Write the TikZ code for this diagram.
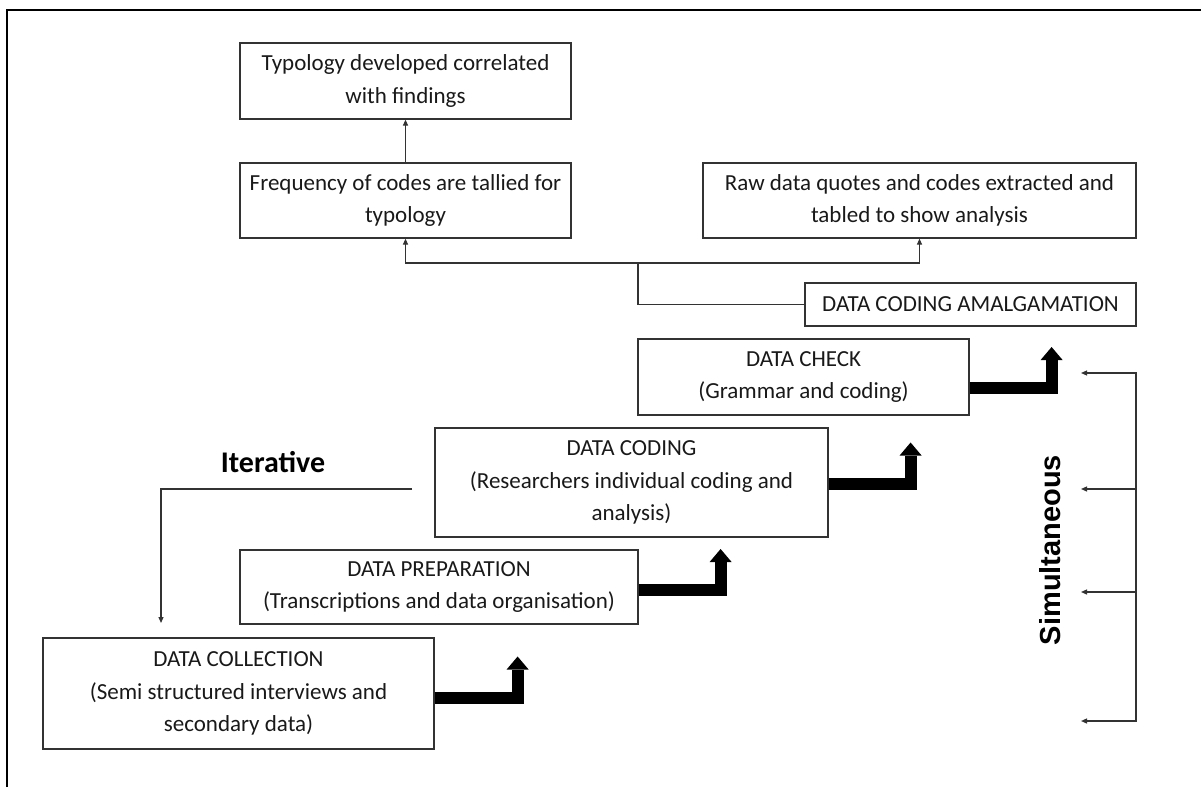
\documentclass[tikz,border=0pt]{standalone}
\usepackage{fontspec}
\setmainfont{Carlito}
\newfontfamily\simfont{Liberation Sans}
\usetikzlibrary{arrows.meta}

\begin{document}
\begin{tikzpicture}[x=1pt, y=-1pt,
    box/.style={draw=black!80, line width=1.2pt, align=center, inner sep=0pt,
      font=\fontsize{23}{32.5}\selectfont, text=black!90},
    link/.style={draw=black!80, line width=1.2pt, -{Triangle[length=6pt,width=5pt]}},
    bigarrow/.style={line width=12pt, line join=miter, -{Triangle[length=13pt,width=22pt,line width=0pt]}}]
  \useasboundingbox (0,0) rectangle (1201,787);
  % frame
  \draw[line width=2pt] (7,787) -- (7,10) -- (1201,10);

  % upper boxes
  \node[box, minimum width=331, minimum height=76] (typology) at (405.5,81)
    {Typology developed correlated\\with findings};
  \node[box, minimum width=331, minimum height=75] (frequency) at (405.5,200.5)
    {Frequency of codes are tallied for\\typology};
  \node[box, minimum width=433, minimum height=75] (raw) at (919.5,200.5)
    {Raw data quotes and codes extracted and\\tabled to show analysis};
  \node[box, minimum width=331, minimum height=43] (amalg) at (970.5,304.5)
    {DATA CODING AMALGAMATION};

  % steps
  \node[box, minimum width=331, minimum height=76] (check) at (803.5,377)
    {DATA CHECK\\(Grammar and coding)};
  \node[box, minimum width=393, minimum height=109] (coding) at (631.5,482.5)
    {DATA CODING\\(Researchers individual coding and\\analysis)};
  \node[box, minimum width=398, minimum height=74] (prep) at (439,587)
    {DATA PREPARATION\\(Transcriptions and data organisation)};
  \node[box, minimum width=391, minimum height=111] (collection) at (238.5,693.5)
    {DATA COLLECTION\\(Semi structured interviews and\\secondary data)};

  % thin connectors
  \draw[link] (frequency.north) -- (typology.south);
  \coordinate (fork) at (638,263);
  \draw[link, -] (amalg.west) -| (fork);
  \draw[link] (fork) -| (frequency.south);
  \draw[link] (fork) -| (raw.south);

  % step arrows
  \draw[bigarrow] ([yshift=-4pt]collection.east) -| ++(83,-41);
  \draw[bigarrow] ([yshift=-3pt]prep.east) -| ++(82,-41);
  \draw[bigarrow] ([yshift=-1pt]coding.east) -| ++(82,-41);
  \draw[bigarrow] ([yshift=-11pt]check.east) -| ++(82,-41);

  % iterative
  \node[font=\fontsize{30}{36}\selectfont\bfseries, anchor=base] (iterative) at (273,472) {Iterative};
  \coordinate (iterstart) at (412,489);
  \coordinate (iterend) at (161,623);
  \draw[link] (iterstart) -| (iterend);

  % simultaneous
  \node[font=\simfont\fontsize{29}{34}\selectfont\bfseries, rotate=90] (simultaneous) at (1050,550) {Simultaneous};
  \foreach \y/\n in {373/1, 489/2, 592/3, 721/4} {
    \coordinate (sr\n) at (1136,\y);
    \coordinate (sl\n) at (1081,\y);
    \draw[link] (sr\n) -- (sl\n);
  }
  \draw[link, -, line cap=rect] (sr1) -- (sr4);
\end{tikzpicture}
\end{document}
